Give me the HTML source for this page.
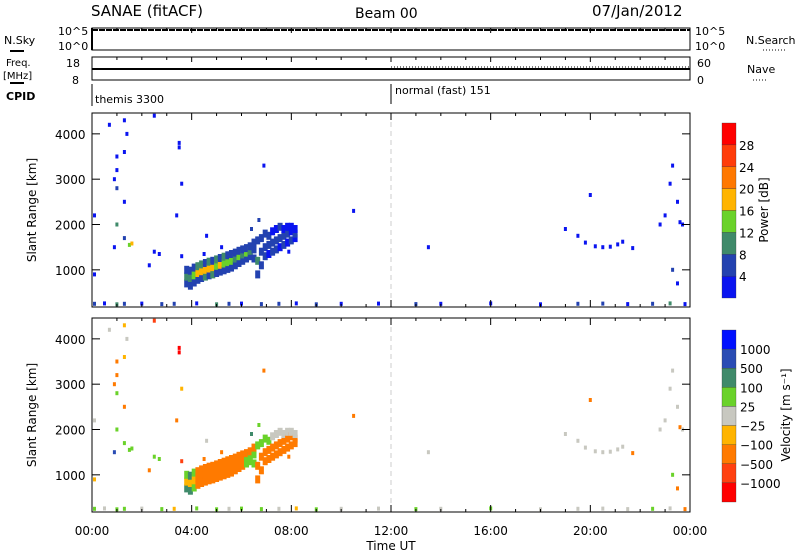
<!DOCTYPE html>
<html><head><meta charset="utf-8"><style>
body{margin:0;background:#fff;}
svg text{font-family:"DejaVu Sans","Liberation Sans",sans-serif;fill:#000;}
</style></head><body>
<svg id="c" width="800" height="554" xmlns="http://www.w3.org/2000/svg">
<text x="91" y="16" font-size="15">SANAE (fitACF)</text>
<text x="355" y="18" font-size="14">Beam 00</text>
<text x="592" y="16" font-size="15">07/Jan/2012</text>
</svg>
<script>
// main band echoes
const bandHours=[3.8,3.8,3.8,3.95,3.95,3.95,4.1,4.1,4.1,4.25,4.25,4.25,4.4,4.4,4.4,4.55,4.55,4.55,4.7,4.7,4.7,4.85,4.85,4.85,5.0,5.0,5.0,5.15,5.15,5.15,5.3,5.3,5.3,5.45,5.45,5.45,5.6,5.6,5.6,5.75,5.75,5.75,5.9,5.9,5.9,6.05,6.05,6.05,6.2,6.2,6.2,6.35,6.35,6.35,6.5,6.5,6.5,6.65,6.65,6.65,6.8,6.8,6.8,6.95,6.95,6.95,7.1,7.1,7.1,7.25,7.25,7.25,7.4,7.4,7.4,7.55,7.55,7.55,7.7,7.7,7.7,7.85,7.85,7.85,8.0,8.0,8.0,8.15,8.15,8.15];
const bandRanges=[700,850,1000,650,820,980,720,880,1050,780,930,1080,820,970,1120,850,1000,1150,880,1030,1180,900,1060,1200,930,1090,1230,960,1110,1260,990,1140,1290,1020,1170,1320,1050,1200,1350,1100,1250,1380,1150,1300,1420,1200,1340,1450,1250,1380,1480,1300,1420,1520,1250,1450,1600,900,1200,1650,1100,1400,1700,1300,1500,1800,1350,1550,1750,1400,1600,1850,1450,1650,1900,1500,1700,1950,1550,1750,1900,1600,1800,1950,1650,1850,1950,1700,1800,1900];
const bandPower=[6,10,6,6,12,6,8,14,6,8,18,10,8,20,10,10,18,8,8,20,10,10,18,8,8,16,10,6,18,8,8,16,10,6,14,8,6,14,8,6,12,8,6,14,6,6,12,8,6,14,6,6,10,6,6,8,6,6,10,6,6,8,6,6,8,6,4,6,6,6,8,4,6,6,4,4,6,6,6,6,4,4,6,4,6,4,4,4,6,4];
const bandVel=[100,-50,80,120,-60,150,60,-100,80,-150,-250,-200,-150,-250,-200,-150,-250,-200,-150,-250,-200,-150,-250,-200,-150,-250,-200,-150,-250,-200,-150,-250,-200,-150,-250,-200,-150,-250,-200,-150,-250,-200,-150,-250,-200,-150,-250,-200,60,50,-150,60,50,-150,60,50,-150,-200,-250,60,-200,-250,60,-200,-250,60,-200,-250,60,-200,-300,10,-200,-300,10,-200,-300,10,-200,-300,10,-200,-300,10,-200,-300,10,-200,-300,10];
// scattered echoes
const hours=[1.5,1.6,2.5,2.7,1.0,1.0,0.7,1.3,1.4,2.5,3.5,3.5,3.6,4.6,6.9,6.4,6.7,1.0,1.0,0.1,0.1,1.3,3.4,3.6,0.9,0.9,1.3,1.3,2.3,4.5,5.2,7.9,
13.5,19.0,19.5,19.8,20.2,20.5,20.8,21.1,21.3,21.7,20.0,22.8,23.0,23.2,23.3,23.5,23.6,23.7,23.3,23.5,10.5,
0.1,0.5,1.0,1.3,2.0,2.8,3.3,4.2,5.0,5.5,6.0,6.8,7.5,8.2,9.0,10.0,11.5,13.0,14.0,16.0,18.0,19.5,20.5,21.5,22.5,23.2,23.8];
const rangesKm=[1550,1580,1400,1350,3500,3200,4200,4300,4000,4400,3700,3800,2900,1750,3300,1900,2100,2800,2000,2200,900,2500,2200,1300,1500,3000,1700,3600,1100,1350,1500,1400,
1500,1900,1750,1600,1520,1500,1510,1560,1620,1480,2650,2000,2200,2900,3300,2500,2050,2000,1000,700,2300,
250,260,240,250,255,245,250,260,240,250,255,245,250,260,240,250,255,245,250,260,240,250,255,245,250,260,245];
const powerDb=[14,18,4,4,4,4,4,4,4,4,4,4,4,4,4,6,6,8,10,4,4,4,4,4,4,4,6,4,4,4,4,4,
4,4,4,4,4,4,4,4,4,4,4,4,4,4,4,4,4,4,8,4,4,
6,4,10,6,4,8,6,4,10,6,4,8,6,4,6,4,4,6,4,4,4,8,6,4,6,10,4];
const velocity=[50,60,80,60,-200,-150,20,-100,20,-600,-1200,-1200,-100,0,-500,100,50,30,60,20,-100,-300,-400,-600,600,-150,60,-50,-200,-200,-200,-150,
-10,0,0,0,10,-10,0,5,0,-200,-200,-20,0,-10,0,10,-300,0,60,-200,-200,
60,10,50,60,0,40,-50,30,60,-10,40,60,0,-60,50,0,10,40,0,60,0,10,0,-10,40,0,-300];
const powLabels=[4,8,12,16,20,24,28];
const velLabels=['1000','500','100','25','\u221225','\u2212100','\u2212500','\u22121000'];
const rTicks=[1000,2000,3000,4000];
const tTicks=[0,4,8,12,16,20,24];
const tLabels=['00:00','04:00','08:00','12:00','16:00','20:00','00:00'];

const svg=document.getElementById('c');
const NS='http://www.w3.org/2000/svg';
const X0=92,X1=690;
const xOf=h=>X0+h/24*(X1-X0);
const R0=180,R1=4460;
const P1={top:113,bot:307},P2={top:318,bot:512};
const yOf=(p,r)=>p.bot-(r-R0)/(R1-R0)*(p.bot-p.top);
const powColors=['#0a14f0','#2342b0','#3f8a6a','#6ad22a','#ffb400','#ff7800','#ff3c0a','#ff0000'];
const velColors=['#ff0000','#ff4010','#ff7a00','#ffb400','#c8c8c0','#6ad22a','#3f8a6a','#2a4cb4','#0010ff'];
const velEdges=[-1000,-500,-100,-25,25,100,500,1000];
function pc(p){return powColors[Math.max(0,Math.min(7,Math.floor(p/4)-(p%4===0&&p>0?1:0)))];}
function vc(v){let i=0;while(i<velEdges.length&&v>=velEdges[i])i++;return velColors[i];}
function el(t,a){const n=document.createElementNS(NS,t);for(const k in a)n.setAttribute(k,a[k]);svg.appendChild(n);return n;}
function txt(s,x,y,size,extra){const n=el('text',Object.assign({x:x,y:y,'font-size':size},extra||{}));n.textContent=s;return n;}

let e;
e=el('rect',{x:X0,y:28,width:X1-X0,height:22,fill:'none',stroke:'#000','stroke-width':1});

e=el('line',{x1:X0,y1:30,x2:X1,y2:30,stroke:'#000','stroke-width':2,'stroke-dasharray':'6 1'});

e=el('line',{x1:X0,y1:28,x2:X0,y2:50,stroke:'#000','stroke-width':2});

e=el('rect',{x:X0,y:57,width:X1-X0,height:23,fill:'none',stroke:'#000','stroke-width':1});

e=el('line',{x1:X0,y1:69,x2:X1,y2:69,stroke:'#000','stroke-width':2});

e=el('line',{x1:391,y1:67,x2:X1,y2:67,stroke:'#000','stroke-width':1,'stroke-dasharray':'1 2'});

[[X0,84,X0,106],[391,84,391,104]].forEach(l=>{e=el('line',{x1:l[0],y1:l[1],x2:l[2],y2:l[3],stroke:'#000'});});
e=txt('themis 3300',95,103,11);
e=txt('normal (fast) 151',395,94,11);
e=txt('10^5',58,35,11);
e=txt('10^0',58,50,11);
e=txt('10^5',695,35,11);
e=txt('10^0',695,50,11);
e=txt('18',66,67,11);
e=txt('8',72,84,11);
e=txt('60',697,67,11);
e=txt('0',697,84,11);
e=txt('N.Sky',4,44,11);
e=el('line',{x1:10,y1:51,x2:24,y2:51,stroke:'#000','stroke-width':2});
e=txt('Freq.',6,66,10);
e=txt('[MHz]',3,79,10);
e=el('line',{x1:10,y1:83,x2:24,y2:83,stroke:'#000','stroke-width':2});
e=txt('CPID',6,100,11,{'font-weight':'bold'});
e=txt('N.Search',746,44,11);
e=el('line',{x1:763,y1:50,x2:785,y2:50,stroke:'#000','stroke-dasharray':'1 2'});
e=txt('Nave',747,73,11);
e=el('line',{x1:753,y1:80,x2:767,y2:80,stroke:'#000','stroke-dasharray':'1 2'});

[P1,P2].forEach((p,pi)=>{
  const nm=pi?'velocity':'power';
  e=el('line',{x1:391,y1:p.top,x2:391,y2:p.bot,stroke:'#ccc','stroke-dasharray':'5 4'});
  
  for(let i=0;i<bandHours.length;i++){
    e=el('rect',{x:(xOf(bandHours[i])-2.5).toFixed(1),y:(yOf(p,bandRanges[i])-4).toFixed(1),width:5,height:8,fill:pi?vc(bandVel[i]):pc(bandPower[i])});
    
  }
  for(let i=0;i<hours.length;i++){
    if(rangesKm[i]===undefined)continue;
    e=el('rect',{x:(xOf(hours[i])-1.5).toFixed(1),y:(yOf(p,rangesKm[i])-2).toFixed(1),width:3,height:4,fill:pi?vc(velocity[i]):pc(powerDb[i])});
    
  }
  e=el('rect',{x:X0,y:p.top,width:X1-X0,height:p.bot-p.top,fill:'none',stroke:'#000'});
  
  rTicks.forEach(r=>{
    const y=yOf(p,r);
    el('line',{x1:X0,y1:y,x2:X0+8,y2:y,stroke:'#000'});
    el('line',{x1:X1-8,y1:y,x2:X1,y2:y,stroke:'#000'});
    e=txt(String(r),55,y+5,12);
  });
  for(let h=0;h<=24;h++){const x=xOf(h);const L=h%4?3:7;
    el('line',{x1:x,y1:p.bot,x2:x,y2:p.bot-L,stroke:'#000'});el('line',{x1:x,y1:p.top,x2:x,y2:p.top+L,stroke:'#000'});}
  e=txt('Slant Range [km]',0,0,12,{transform:`translate(36,${(p.top+p.bot)/2}) rotate(-90)`,'text-anchor':'middle'});
  
});
for(let h=0;h<=24;h++){const x=xOf(h);el('line',{x1:x,y1:28,x2:x,y2:h%4?31:33,stroke:'#000'});el('line',{x1:x,y1:57,x2:x,y2:h%4?60:62,stroke:'#000'});}
tTicks.forEach((t,i)=>{e=txt(tLabels[i],xOf(t),535,12,{'text-anchor':'middle'});});
e=txt('Time UT',xOf(12),550,12,{'text-anchor':'middle'});

const cbTop=123,cbBot=298;
let bh=(cbBot-cbTop)/8;
powColors.forEach((c,i)=>{e=el('rect',{x:722,y:cbBot-(i+1)*bh,width:14,height:bh,fill:c,stroke:'#333','stroke-width':0.3});});
powLabels.forEach((v,i)=>{e=txt(String(v),739,cbBot-(i+1)*bh+5,12);});
e=txt('Power [dB]',0,0,12,{transform:'translate(768,210) rotate(-90)','text-anchor':'middle'});
bh=(502-330)/9;
velColors.slice().reverse().forEach((c,i)=>{e=el('rect',{x:722,y:330+i*bh,width:14,height:bh,fill:c,stroke:'#333','stroke-width':0.3});});
velLabels.forEach((v,i)=>{e=txt(v,740,330+(i+1)*bh+5,12);});
e=txt('Velocity [m s\u207B\u00B9]',0,0,12,{transform:'translate(790,415) rotate(-90)','text-anchor':'middle'});
</script>
</body></html>
